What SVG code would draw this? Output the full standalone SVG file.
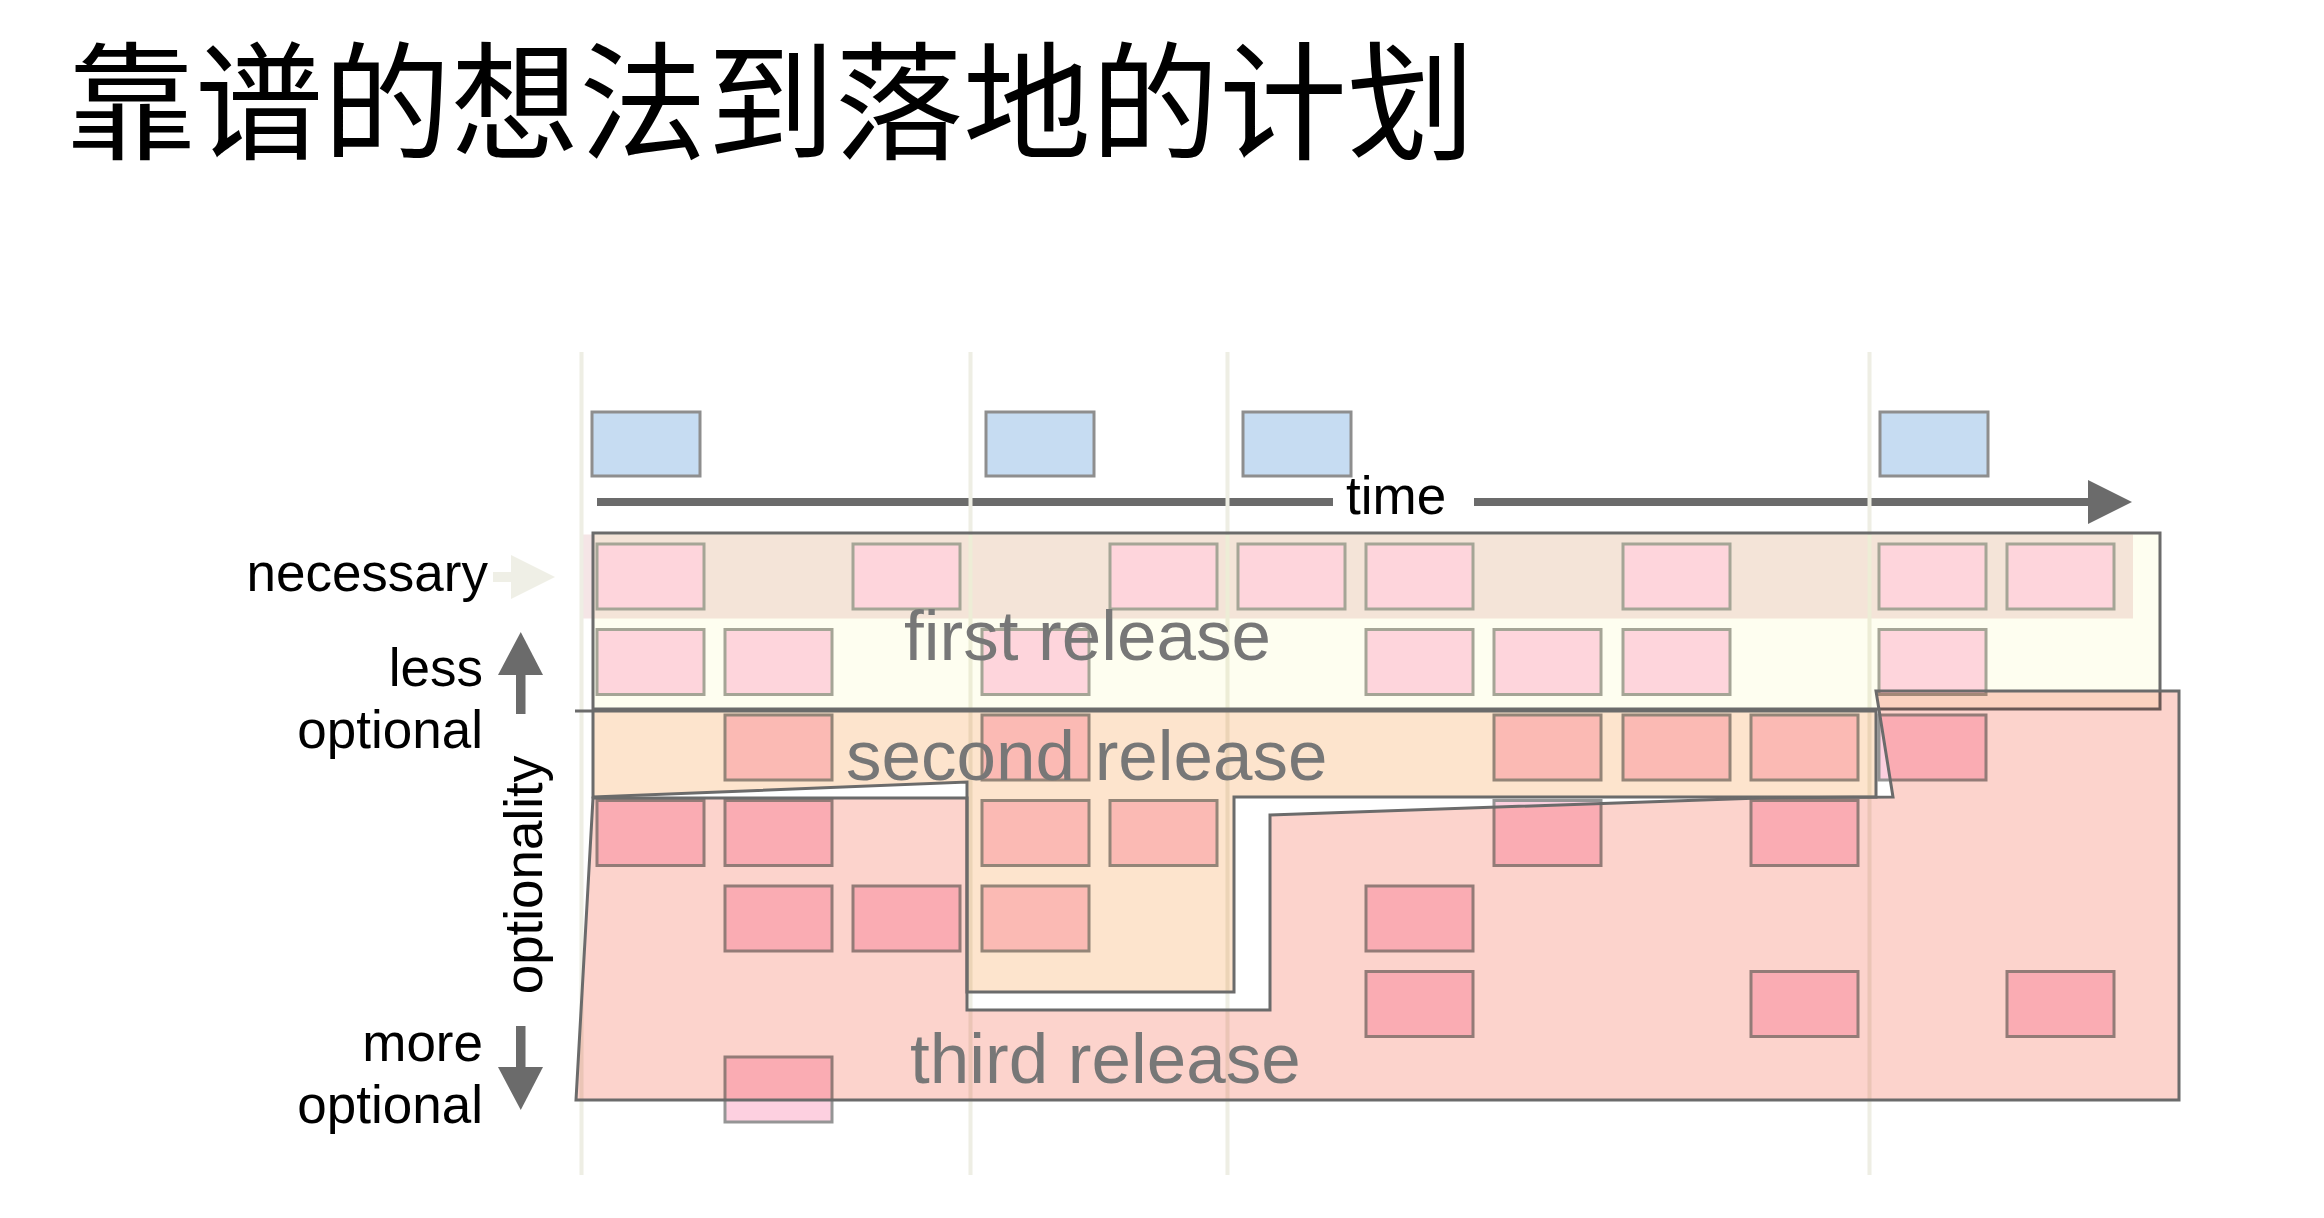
<svg xmlns="http://www.w3.org/2000/svg" width="2324" height="1218" viewBox="0 0 2324 1218">
<defs>
<style>
.title{font-family:"Noto Sans CJK SC","Noto Sans CJK JP",sans-serif;font-size:128px;fill:#000}
.lbl{font-family:"Liberation Sans",Arial,sans-serif;font-size:53px;fill:#000}
.rel{font-family:"Liberation Sans",Arial,sans-serif;font-size:71px;fill:#777777}
.grid{stroke:#eeeee4;stroke-width:4;fill:none}
.blue{fill:#c6dcf2;stroke:#8e8e8e;stroke-width:3}
.pt{fill:#ffd6ea;stroke:#a6a6a0;stroke-width:3}
.pl{fill:#fdd0e0;stroke:#959595;stroke-width:3}
.blend{mix-blend-mode:multiply;stroke:none}
.outline{fill:none;stroke:#6b6b6b;stroke-width:3;stroke-linejoin:miter}
.dark{fill:#6b6b6b}
</style>
</defs>
<rect x="0" y="0" width="2324" height="1218" fill="#ffffff"/>
<g id="title">
<text class="title" x="67" y="150" textLength="1408" lengthAdjust="spacingAndGlyphs">靠谱的想法到落地的计划</text>
</g>
<g id="time-axis">
<rect class="dark" x="597" y="498" width="736" height="8"/>
<rect class="dark" x="1474" y="498" width="616" height="8"/>
<polygon class="dark" points="2088,480 2132,502 2088,524"/>
<text class="lbl" x="1346" y="514" font-size="52">time</text>
</g>
<g id="necessary-band">
<rect x="583" y="534.5" width="1550" height="84" fill="#f5e5e6"/>
</g>
<g id="gridlines">
<line class="grid" x1="581.5" y1="352" x2="581.5" y2="1175"/>
<line class="grid" x1="970.5" y1="352" x2="970.5" y2="1175"/>
<line class="grid" x1="1227.5" y1="352" x2="1227.5" y2="1175"/>
<line class="grid" x1="1869.5" y1="352" x2="1869.5" y2="1175"/>
</g>
<g id="milestones">
<rect class="blue" x="592" y="412" width="108" height="64"/>
<rect class="blue" x="986" y="412" width="108" height="64"/>
<rect class="blue" x="1243" y="412" width="108" height="64"/>
<rect class="blue" x="1880" y="412" width="108" height="64"/>
</g>
<g id="features">
<g id="row1">
<rect class="pt" x="597" y="544" width="107" height="65"/>
<rect class="pt" x="853" y="544" width="107" height="65"/>
<rect class="pt" x="1110" y="544" width="107" height="65"/>
<rect class="pt" x="1238" y="544" width="107" height="65"/>
<rect class="pt" x="1366" y="544" width="107" height="65"/>
<rect class="pt" x="1623" y="544" width="107" height="65"/>
<rect class="pt" x="1879" y="544" width="107" height="65"/>
<rect class="pt" x="2007" y="544" width="107" height="65"/>
</g>
<g id="row2">
<rect class="pt" x="597" y="629.5" width="107" height="65"/>
<rect class="pt" x="725" y="629.5" width="107" height="65"/>
<rect class="pt" x="982" y="629.5" width="107" height="65"/>
<rect class="pt" x="1366" y="629.5" width="107" height="65"/>
<rect class="pt" x="1494" y="629.5" width="107" height="65"/>
<rect class="pt" x="1623" y="629.5" width="107" height="65"/>
<rect class="pt" x="1879" y="629.5" width="107" height="65"/>
</g>
<g id="row3">
<rect class="pl" x="725" y="715" width="107" height="65"/>
<rect class="pl" x="982" y="715" width="107" height="65"/>
<rect class="pl" x="1494" y="715" width="107" height="65"/>
<rect class="pl" x="1623" y="715" width="107" height="65"/>
<rect class="pl" x="1751" y="715" width="107" height="65"/>
<rect class="pl" x="1879" y="715" width="107" height="65"/>
</g>
<g id="row4">
<rect class="pl" x="597" y="800.5" width="107" height="65"/>
<rect class="pl" x="725" y="800.5" width="107" height="65"/>
<rect class="pl" x="982" y="800.5" width="107" height="65"/>
<rect class="pl" x="1110" y="800.5" width="107" height="65"/>
<rect class="pl" x="1494" y="800.5" width="107" height="65"/>
<rect class="pl" x="1751" y="800.5" width="107" height="65"/>
</g>
<g id="row5">
<rect class="pl" x="725" y="886" width="107" height="65"/>
<rect class="pl" x="853" y="886" width="107" height="65"/>
<rect class="pl" x="982" y="886" width="107" height="65"/>
<rect class="pl" x="1366" y="886" width="107" height="65"/>
</g>
<g id="row6">
<rect class="pl" x="1366" y="971.5" width="107" height="65"/>
<rect class="pl" x="1751" y="971.5" width="107" height="65"/>
<rect class="pl" x="2007" y="971.5" width="107" height="65"/>
</g>
<g id="row7">
<rect class="pl" x="725" y="1057" width="107" height="65"/>
</g>
</g>
<g id="first-release">
<rect class="blend" x="593" y="533" width="1567" height="176" fill="#fefef0"/>
<rect class="outline" x="593" y="533" width="1567" height="176"/>
<text class="rel" x="904" y="660">first release</text>
</g>
<g id="second-release">
<polygon class="blend" fill="#fde4cd" points="593,711 1876,711 1876,797 1234,797 1234,992 967,992 967,782 593,797"/>
<polyline class="outline" points="575,711 1876,711 1876,797 1234,797 1234,992 967,992 967,782 593,797 593,711"/>
<text class="rel" x="846" y="780">second release</text>
</g>
<g id="third-release">
<polygon class="blend" fill="#fcd3cc" points="593,798 967,798 967,1010 1270,1010 1270,815 1760,798 1893,797 1876,691 2179,691 2179,1100 576,1100"/>
<polygon class="outline" points="593,798 967,798 967,1010 1270,1010 1270,815 1760,798 1893,797 1876,691 2179,691 2179,1100 576,1100"/>
<text class="rel" x="910" y="1083">third release</text>
</g>
<g id="axis-labels">
<text class="lbl" x="488" y="591" text-anchor="end">necessary</text>
<text class="lbl" x="483" y="686" text-anchor="end">less</text>
<text class="lbl" x="483" y="748" text-anchor="end">optional</text>
<text class="lbl" x="542" y="875" text-anchor="middle" transform="rotate(-90 542 875)">optionality</text>
<text class="lbl" x="483" y="1061" text-anchor="end">more</text>
<text class="lbl" x="483" y="1123" text-anchor="end">optional</text>
</g>
<g id="connectors">
<g id="necessary-arrow" fill="#efefe6">
<rect x="493" y="572" width="19" height="10"/>
<polygon points="511,555 555,577 511,599"/>
</g>
<g id="less-arrow" class="dark">
<rect x="516" y="673" width="9.5" height="41"/>
<polygon points="498,675 520.75,632 543,675"/>
</g>
<g id="more-arrow" class="dark">
<rect x="516" y="1026" width="9.5" height="43"/>
<polygon points="498,1067 520.75,1110 543,1067"/>
</g>
</g>
</svg>
